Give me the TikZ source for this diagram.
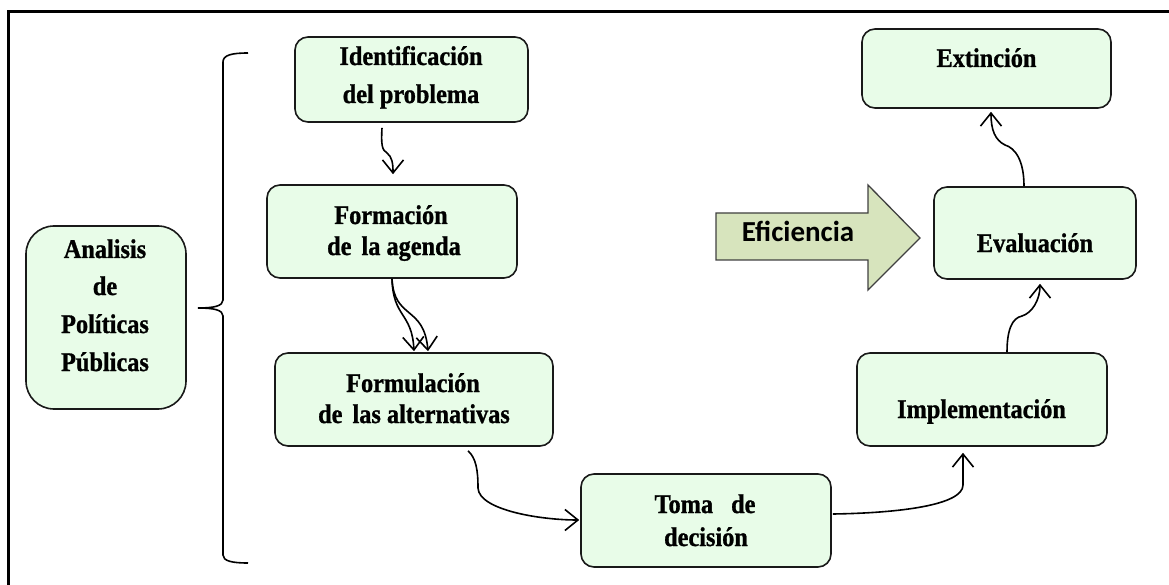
\documentclass[tikz,border=0pt]{standalone}
\usepackage{fontspec}
\usetikzlibrary{arrows.meta}
\newfontfamily\boxfont[FakeStretch=0.9,FakeBold=1]{Liberation Serif}
\newfontfamily\effont{Carlito}
\definecolor{boxgreen}{HTML}{E8FCE8}
\definecolor{arrowfill}{HTML}{D7E4BD}
\definecolor{arrowline}{HTML}{404040}
\tikzset{
  stagebox/.style={draw=black!90, line width=1.6pt, fill=boxgreen, rounded corners=13pt, inner sep=0pt},
  boxtext/.style={anchor=base, inner sep=0pt, font=\boxfont\bfseries\fontsize{27}{32}\selectfont},
  flow/.style={draw=black, line width=1.6pt, -{Straight Barb[length=13pt,width=21pt]}},
}
\begin{document}
\begin{tikzpicture}[x=1pt,y=1pt]
\useasboundingbox (0,0) rectangle (1169,-585);
\clip (0,0) rectangle (1169,-585);
% outer frame
\draw[line width=3pt] (8,-600) -- (8,-12) -- (1180,-12);
% boxes
\node[stagebox, minimum width=233pt, minimum height=85pt] (ident) at (411.5,-79.5) {};
\node[stagebox, minimum width=250pt, minimum height=93pt] (form) at (392,-231.5) {};
\node[stagebox, minimum width=278pt, minimum height=93pt] (formul) at (414,-399.5) {};
\node[stagebox, minimum width=250pt, minimum height=93pt] (toma) at (706,-520.5) {};
\node[stagebox, minimum width=250pt, minimum height=93pt] (impl) at (982,-399.5) {};
\node[stagebox, minimum width=202pt, minimum height=92pt] (eval) at (1035,-233) {};
\node[stagebox, minimum width=249pt, minimum height=79pt] (ext) at (986.5,-68.5) {};
\node[stagebox, rounded corners=28pt, minimum width=160pt, minimum height=183pt] (anal) at (106,-317.5) {};
% texts
\node[boxtext] (identA) at (411,-65) {Identificación};
\node[boxtext] (identB) at (411,-103) {del problema};
\node[boxtext] (formA) at (391,-224) {Formación};
\node[boxtext] (formB) at (394,-255) {de\hspace{4pt} la agenda};
\node[boxtext] (formulA) at (413,-392) {Formulación};
\node[boxtext] (formulB) at (414,-423) {de\hspace{4pt} las alternativas};
\node[boxtext] (tomaA) at (705,-513) {Toma\hspace{12pt} de};
\node[boxtext] (tomaB) at (706,-546) {decisión};
\node[boxtext] (implA) at (981.5,-418) {Implementación};
\node[boxtext] (evalA) at (1035,-252) {Evaluación};
\node[boxtext] (extA) at (986.5,-67) {Extinción};
\node[boxtext] (analA) at (105,-258) {Analisis};
\node[boxtext] (analB) at (105,-295) {de};
\node[boxtext] (analC) at (105,-333) {Políticas};
\node[boxtext] (analD) at (105,-371) {Públicas};
% brace
\draw[line width=1.6pt] (248,-53) .. controls (232,-53) and (223,-55) .. (223,-62) -- (223,-300)
  .. controls (223,-306) and (214,-308) .. (198,-308)
  .. controls (214,-308) and (223,-310) .. (223,-316) -- (223,-555)
  .. controls (223,-561) and (232,-563) .. (248,-563);
% Eficiencia arrow
\draw[fill=arrowfill, draw=arrowline, line width=1.3pt] (716,-213) -- (868,-213) -- (868,-185) -- (920,-238) -- (868,-290) -- (868,-260) -- (716,-260) -- cycle;
\node[anchor=base, inner sep=0pt, font=\effont\bfseries\fontsize{29}{34}\selectfont] (efic) at (798,-242) {Eficiencia};
% connectors
\draw[flow] ([shift={(-29.5,-5)}]ident.south) .. controls (381,-145) and (382,-150) .. (387,-153)
  .. controls (392,-157) and (393,-163) .. ([shift={(1,10)}]form.north);
\draw[flow] (form.south) .. controls (393,-318) and (412,-312) .. ([shift={(0,1)}]formul.north);
\draw[flow] (form.south) .. controls (394,-320) and (424,-305) .. ([shift={(14,1)}]formul.north);
\draw[flow] ([shift={(54,-4)}]formul.south) .. controls (476,-458) and (478,-470) .. (478,-488)
  .. controls (479,-510) and (540,-520) .. ([shift={(-1,0.5)}]toma.west);
\draw[flow] ([shift={(1,6.5)}]toma.east) .. controls (900,-513) and (963,-505) .. (963,-485) -- ([shift={(-19,-6)}]impl.south);
\draw[flow] ([shift={(25,0)}]impl.north) .. controls (1007,-330) and (1012,-318) .. (1022,-316)
  .. controls (1032,-313) and (1040,-300) .. ([shift={(5,-4)}]eval.south);
\draw[flow] ([shift={(-11,0)}]eval.north) .. controls (1024,-160) and (1015,-148) .. (1005,-145)
  .. controls (995,-140) and (991,-130) .. ([shift={(4.5,-3)}]ext.south);
\end{tikzpicture}
\end{document}
